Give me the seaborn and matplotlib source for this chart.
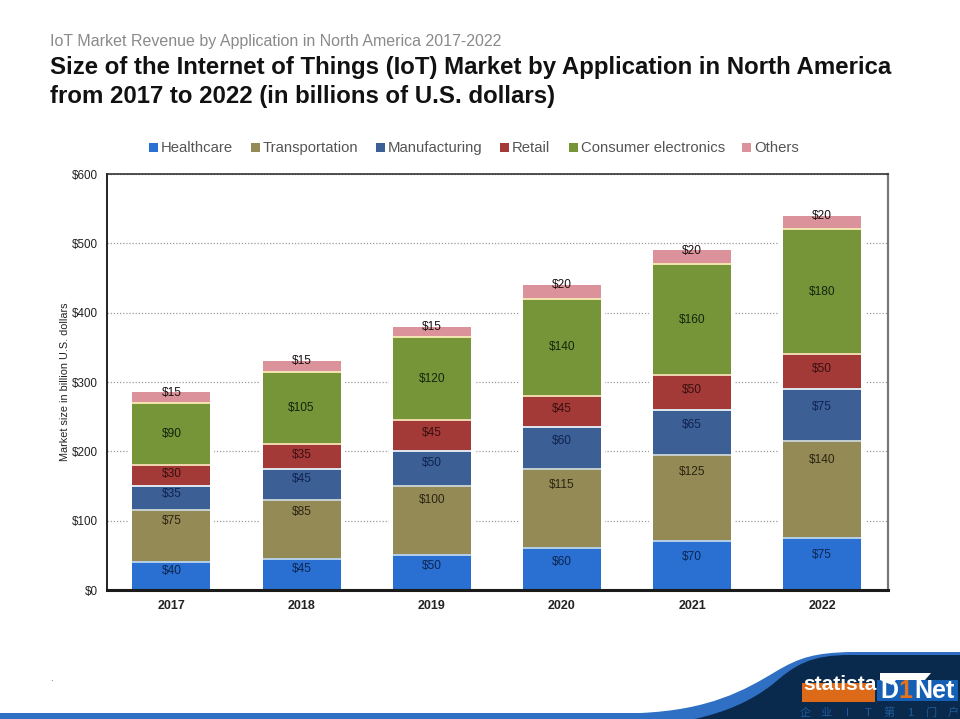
import matplotlib

matplotlib.use("Agg")
import matplotlib.pyplot as plt
import numpy as np
import pandas as pd
import seaborn as sns
from matplotlib.patches import PathPatch, Polygon, Rectangle
from matplotlib.path import Path

years = ["2017", "2018", "2019", "2020", "2021", "2022"]
healthcare = [40, 45, 50, 60, 70, 75]
transportation = [75, 85, 100, 115, 125, 140]
manufacturing = [35, 45, 50, 60, 65, 75]
retail = [30, 35, 45, 45, 50, 50]
consumer = [90, 105, 120, 140, 160, 180]
others = [15, 15, 15, 20, 20, 20]

series_names = ["Healthcare", "Transportation", "Manufacturing", "Retail", "Consumer electronics", "Others"]
series_values = [healthcare, transportation, manufacturing, retail, consumer, others]
colors = ["#2a70d2", "#948a56", "#3c5f96", "#a33a38", "#769438", "#db929a"]
edge_colors = ["#b5cfe8", "#c5d0d0", "#dfe8f0", "#f0d8b0", "#f3e6b0"]
label_colors = ["#0d2550", "#2a2410", "#0f2350", "#3a1010", "#12260c", "#1a1010"]
# where the value label sits inside a segment, as a share of its height
label_share = [0.68, 0.8, 0.66, 0.58, 0.5, 0.98]

W, H = 960, 719

sns.set_style("white")
plt.rcParams["font.family"] = ["Liberation Sans", "Noto Sans CJK SC", "DejaVu Sans"]

fig = plt.figure(figsize=(W / 100, H / 100), dpi=100)
ax = fig.add_axes([107 / W, 1 - 590 / H, (888 - 107) / W, (590 - 174) / H])

# white halo behind the stacks, it interrupts the dotted gridlines
totals = np.sum(series_values, axis=0)
sns.barplot(x=years, y=totals, ax=ax, color="white", width=0.66, saturation=1,
            linewidth=0, errorbar=None, zorder=2)

bottom = np.zeros(len(years))
for i, name in enumerate(series_names):
    values = np.array(series_values[i])
    df = pd.DataFrame({"year": years, "value": values})
    sns.barplot(
        data=df, x="year", y="value", ax=ax, bottom=bottom, color=colors[i], width=0.6,
        saturation=1, linewidth=0, errorbar=None, zorder=3,
    )
    for patch, v, b in zip(ax.containers[-1], values, bottom):
        cx = patch.get_x() + patch.get_width() / 2
        ax.text(cx, b + v * label_share[i], f"${v}", ha="center", va="center",
                fontsize=8.6, color=label_colors[i], zorder=6)
        if i < len(edge_colors):
            ax.hlines(b + v, patch.get_x(), patch.get_x() + patch.get_width(),
                      color=edge_colors[i], linewidth=1.4, zorder=4)
    bottom = bottom + values

ax.set_xlim(-0.495, 5.505)
ax.set_ylim(0, 600)
ax.set_yticks(range(0, 601, 100))
ax.set_yticklabels([f"${v}" for v in range(0, 601, 100)], fontsize=8.4, color="#222222")
ax.set_xlabel("")
ax.set_ylabel("Market size in billion U.S. dollars", fontsize=7.8, color="#222222")
ax.yaxis.set_label_coords(-0.048, 0.5)
ax.tick_params(axis="y", length=0, pad=6.5)
ax.tick_params(axis="x", length=0, pad=7)
for lbl in ax.get_xticklabels():
    lbl.set_fontsize(9)
    lbl.set_fontweight("bold")
    lbl.set_color("#222222")
ax.grid(axis="y", color="#9a9a9a", linestyle=(0, (1, 1.5)), linewidth=0.9, zorder=0)
ax.set_axisbelow(True)

for side, lw, col in [("top", 1.2, "#333333"), ("left", 1.4, "#222222"),
                      ("right", 1.6, "#777777"), ("bottom", 2.2, "#1a1a1a")]:
    ax.spines[side].set_visible(True)
    ax.spines[side].set_linewidth(lw)
    ax.spines[side].set_color(col)
    ax.spines[side].set_zorder(5)

# headings
fig.text(50 / W, 1 - 41.5 / H, "IoT Market Revenue by Application in North America 2017-2022",
         fontsize=11.5, color="#8a8a8a", va="center")
fig.text(50 / W, 1 - 67.5 / H, "Size of the Internet of Things (IoT) Market by Application in North America",
         fontsize=17.3, fontweight="bold", color="#111111", va="center")
fig.text(50 / W, 1 - 96.5 / H, "from 2017 to 2022 (in billions of U.S. dollars)",
         fontsize=17.3, fontweight="bold", color="#111111", va="center")

# legend
legend_x = [149, 251, 376, 500, 569, 742]
for x, name, col in zip(legend_x, series_names, colors):
    fig.add_artist(Rectangle((x / W, 1 - 152 / H), 9 / W, 9 / H, transform=fig.transFigure, color=col, lw=0))
    fig.text((x + 12) / W, 1 - 152 / H, name, fontsize=10.7, color="#555555", va="baseline")

fig.text(50 / W, 1 - 678 / H, ".", fontsize=7, color="#555555", va="center")


def to_fig(points):
    return [(x / W, 1 - y / H) for x, y in points]


# footer swoosh
light = to_fig([(0, 713), (640, 713), (710, 710), (745, 690), (775, 672),
                (800, 657), (815, 653), (850, 652), (960, 652), (960, 719), (0, 719), (0, 719)])
codes_light = [Path.MOVETO, Path.LINETO, Path.CURVE4, Path.CURVE4, Path.CURVE4,
               Path.CURVE4, Path.CURVE4, Path.CURVE4, Path.LINETO, Path.LINETO, Path.LINETO, Path.CLOSEPOLY]
fig.add_artist(PathPatch(Path(light, codes_light), transform=fig.transFigure, facecolor="#2f6fc4", lw=0))

dark = to_fig([(695, 719), (725, 712), (750, 702), (773, 684), (795, 665), (810, 655), (850, 655),
               (960, 655), (960, 719), (695, 719), (695, 719)])
codes_dark = [Path.MOVETO, Path.CURVE4, Path.CURVE4, Path.CURVE4, Path.CURVE4, Path.CURVE4, Path.CURVE4,
              Path.LINETO, Path.LINETO, Path.LINETO, Path.CLOSEPOLY]
fig.add_artist(PathPatch(Path(dark, codes_dark), transform=fig.transFigure, facecolor="#0a2a4d", lw=0))

# logos
fig.add_artist(Rectangle((802 / W, 1 - 702 / H), 73 / W, 19 / H, transform=fig.transFigure,
                         facecolor="#dd6a18", lw=0))
fig.add_artist(Rectangle((877 / W, 1 - 701 / H), 81 / W, 21 / H, transform=fig.transFigure,
                         facecolor="#1560b5", lw=0))
fig.add_artist(Polygon(to_fig([(880, 673), (931, 673), (925, 680), (896, 680), (892, 685), (880, 680)]),
                       transform=fig.transFigure, facecolor="white", lw=0))
fig.text(840 / W, 1 - 685 / H, "statista", fontsize=15, fontweight="bold", color="white", ha="center", va="center")
fig.text(880 / W, 1 - 691 / H, "D", fontsize=18, fontweight="bold", color="white", va="center")
fig.text(898 / W, 1 - 691 / H, "1", fontsize=18, fontweight="bold", color="#e8711a", va="center")
fig.text(914 / W, 1 - 691 / H, "Net", fontsize=18, fontweight="bold", color="white", va="center")
for x, ch in zip(np.linspace(805, 953, 8), "企业IT第1门户"):
    fig.text(x / W, 1 - 713 / H, ch, fontsize=8, color="#1f5c9c", ha="center", va="center")

fig.savefig("out.png", dpi=100)
